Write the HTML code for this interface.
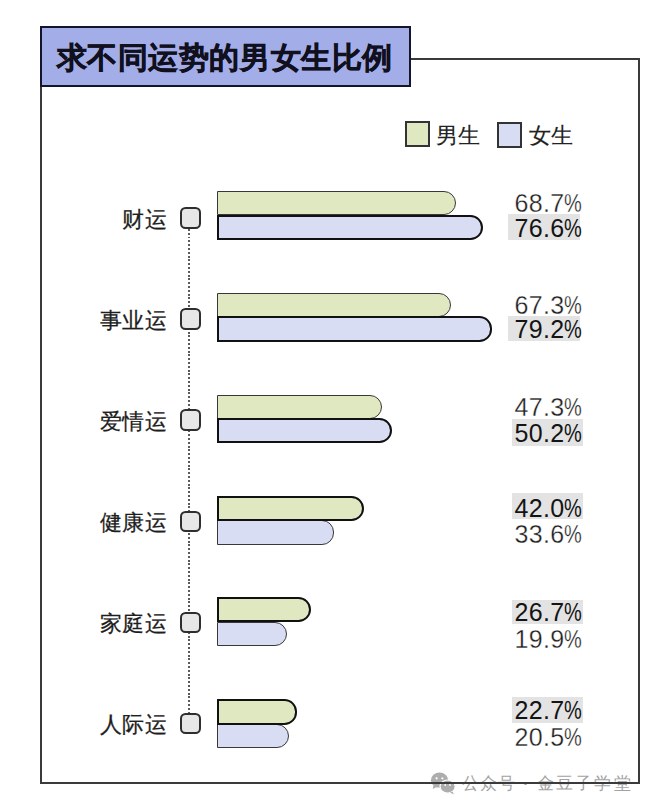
<!DOCTYPE html>
<html><head><meta charset="utf-8">
<style>
html,body{margin:0;padding:0;background:#fff;}
body{width:652px;height:810px;position:relative;overflow:hidden;font-family:"Liberation Sans",sans-serif;color:#1e1e1e;}
.frame{position:absolute;left:39.5px;top:57.5px;width:596px;height:722px;border:2px solid #3a3a3a;}
.title{position:absolute;left:39.5px;top:25.5px;width:367px;height:57px;border:2px solid #14142a;background:#a3ade7;}
.title span{position:absolute;left:15px;top:12px;font-size:30.2px;letter-spacing:0.6px;font-weight:bold;line-height:36px;color:#10101e;white-space:nowrap;-webkit-text-stroke:0.5px #10101e;}
.lg{position:absolute;width:21px;height:22px;border:2px solid #333;}
.lgt{position:absolute;font-size:21.6px;line-height:26px;color:#222;white-space:nowrap;-webkit-text-stroke:0.15px #222;}
.lab{position:absolute;right:484.4px;font-size:22.2px;letter-spacing:0.6px;line-height:26px;color:#1e1e1e;white-space:nowrap;-webkit-text-stroke:0.25px #1e1e1e;}
.mk{position:absolute;left:179.5px;width:17.5px;height:17.5px;border:2px solid #2e2e2e;border-radius:5.5px;background:#e7e7e7;}
.dots{position:absolute;left:187.8px;top:229px;width:2px;height:484px;background:repeating-linear-gradient(to bottom,#5a5a5a 0,#5a5a5a 1.9px,transparent 1.9px,transparent 3.8px);}
.bar{position:absolute;left:217.3px;box-sizing:border-box;}
.bar.g{background:#e0e8c2;}
.bar.b{background:#d9ddf3;}
.bar.thin{height:24.3px;border:1.4px solid #383838;border-radius:0 12px 12px 0;}
.bar.thick{height:25.3px;border:2.1px solid #111;border-radius:0 12.6px 12.6px 0;}
.hl{position:absolute;background:#e3e3e3;}
.pct{position:absolute;left:514.6px;font-size:25px;line-height:28px;white-space:nowrap;letter-spacing:0.3px;}
.pc{display:inline-block;transform:scaleX(0.8);transform-origin:0 50%;}
.pct.bd{color:#141414;}
.pct.rg{color:#1e1e1e;-webkit-text-stroke:0.3px #fff;}
.wm{position:absolute;top:772px;font-size:17.4px;line-height:22px;color:#a3a3a3;white-space:nowrap;}
.wmd{position:absolute;left:524px;top:782px;width:2.5px;height:2.5px;border-radius:50%;background:#a3a3a3;}
.wx{position:absolute;left:430px;top:772.3px;opacity:0.82;}
</style></head><body>
<div class="wm" style="left:461.9px">公</div>
<div class="wm" style="left:479.8px">众</div>
<div class="wm" style="left:497.6px">号</div>
<div class="wm" style="left:536.9px">金</div>
<div class="wm" style="left:555.9px">豆</div>
<div class="wm" style="left:574.8px">子</div>
<div class="wm" style="left:593.7px">学</div>
<div class="wm" style="left:613.7px">堂</div>
<div class="wmd"></div>
<svg class="wx" width="30" height="24" viewBox="0 0 30 24">
<ellipse cx="9.5" cy="8.2" rx="8.6" ry="7.6" fill="#9c9c9c"/>
<path d="M3.5 13.5 L2.8 17 L7 14.8 Z" fill="#9c9c9c"/>
<circle cx="6.6" cy="6.3" r="1.1" fill="#fff"/><circle cx="12.4" cy="6.3" r="1.1" fill="#fff"/>
<ellipse cx="17.6" cy="14.6" rx="7.6" ry="6.6" fill="#9c9c9c" stroke="#fff" stroke-width="1.2"/>
<path d="M22.5 19.5 L23.8 22.5 L20 20.6 Z" fill="#9c9c9c"/>
<circle cx="15.2" cy="13" r="0.9" fill="#fff"/><circle cx="20" cy="13" r="0.9" fill="#fff"/>
</svg>
<div class="frame"></div>
<div class="title"><span>求不同运势的男女生比例</span></div>
<div class="lg" style="left:405px;top:121px;background:#e0e8c2"></div>
<div class="lgt" style="left:436px;top:123px">男生</div>
<div class="lg" style="left:497px;top:121.5px;background:#d9ddf3"></div>
<div class="lgt" style="left:528.5px;top:123px">女生</div>
<div class="dots"></div>
<div class="bar g thin" style="top:191.2px;width:238.3px"></div>
<div class="bar b thick" style="top:214.5px;width:266.2px"></div>
<div class="mk" style="top:207.2px"></div>
<div class="lab" style="top:206.7px">财运</div>
<div class="hl" style="left:508px;top:214.3px;width:72.0px;height:25.9px"></div>
<div class="pct rg" style="top:189.1px">68.7<span class="pc">%</span></div>
<div class="pct bd" style="top:213.9px">76.6<span class="pc">%</span></div>
<div class="bar g thin" style="top:293.1px;width:233.5px"></div>
<div class="bar b thick" style="top:316.4px;width:275.2px"></div>
<div class="mk" style="top:308.3px"></div>
<div class="lab" style="top:307.8px">事业运</div>
<div class="hl" style="left:508.3px;top:316.1px;width:71.7px;height:25.2px"></div>
<div class="pct rg" style="top:291.0px">67.3<span class="pc">%</span></div>
<div class="pct bd" style="top:315.4px">79.2<span class="pc">%</span></div>
<div class="bar g thin" style="top:394.6px;width:164.4px"></div>
<div class="bar b thick" style="top:417.9px;width:175.0px"></div>
<div class="mk" style="top:409.4px"></div>
<div class="lab" style="top:408.9px">爱情运</div>
<div class="hl" style="left:512px;top:419.3px;width:71.0px;height:26.3px"></div>
<div class="pct rg" style="top:393.4px">47.3<span class="pc">%</span></div>
<div class="pct bd" style="top:418.6px">50.2<span class="pc">%</span></div>
<div class="bar b thin" style="top:520.4px;width:117.1px"></div>
<div class="bar g thick" style="top:495.8px;width:146.7px"></div>
<div class="mk" style="top:510.6px"></div>
<div class="lab" style="top:510.1px">健康运</div>
<div class="hl" style="left:511.8px;top:493.1px;width:71.4px;height:26.2px"></div>
<div class="pct bd" style="top:493.6px">42.0<span class="pc">%</span></div>
<div class="pct rg" style="top:520.1px">33.6<span class="pc">%</span></div>
<div class="bar b thin" style="top:621.8px;width:69.7px"></div>
<div class="bar g thick" style="top:597.2px;width:93.8px"></div>
<div class="mk" style="top:611.7px"></div>
<div class="lab" style="top:611.2px">家庭运</div>
<div class="hl" style="left:512px;top:600.4px;width:71.0px;height:23.7px"></div>
<div class="pct bd" style="top:598.2px">26.7<span class="pc">%</span></div>
<div class="pct rg" style="top:624.5px">19.9<span class="pc">%</span></div>
<div class="bar b thin" style="top:723.9px;width:71.8px"></div>
<div class="bar g thick" style="top:699.3px;width:80.0px"></div>
<div class="mk" style="top:712.8px"></div>
<div class="lab" style="top:712.3px">人际运</div>
<div class="hl" style="left:512px;top:697px;width:71.0px;height:25.6px"></div>
<div class="pct bd" style="top:696.4px">22.7<span class="pc">%</span></div>
<div class="pct rg" style="top:723.4px">20.5<span class="pc">%</span></div>

</body></html>
